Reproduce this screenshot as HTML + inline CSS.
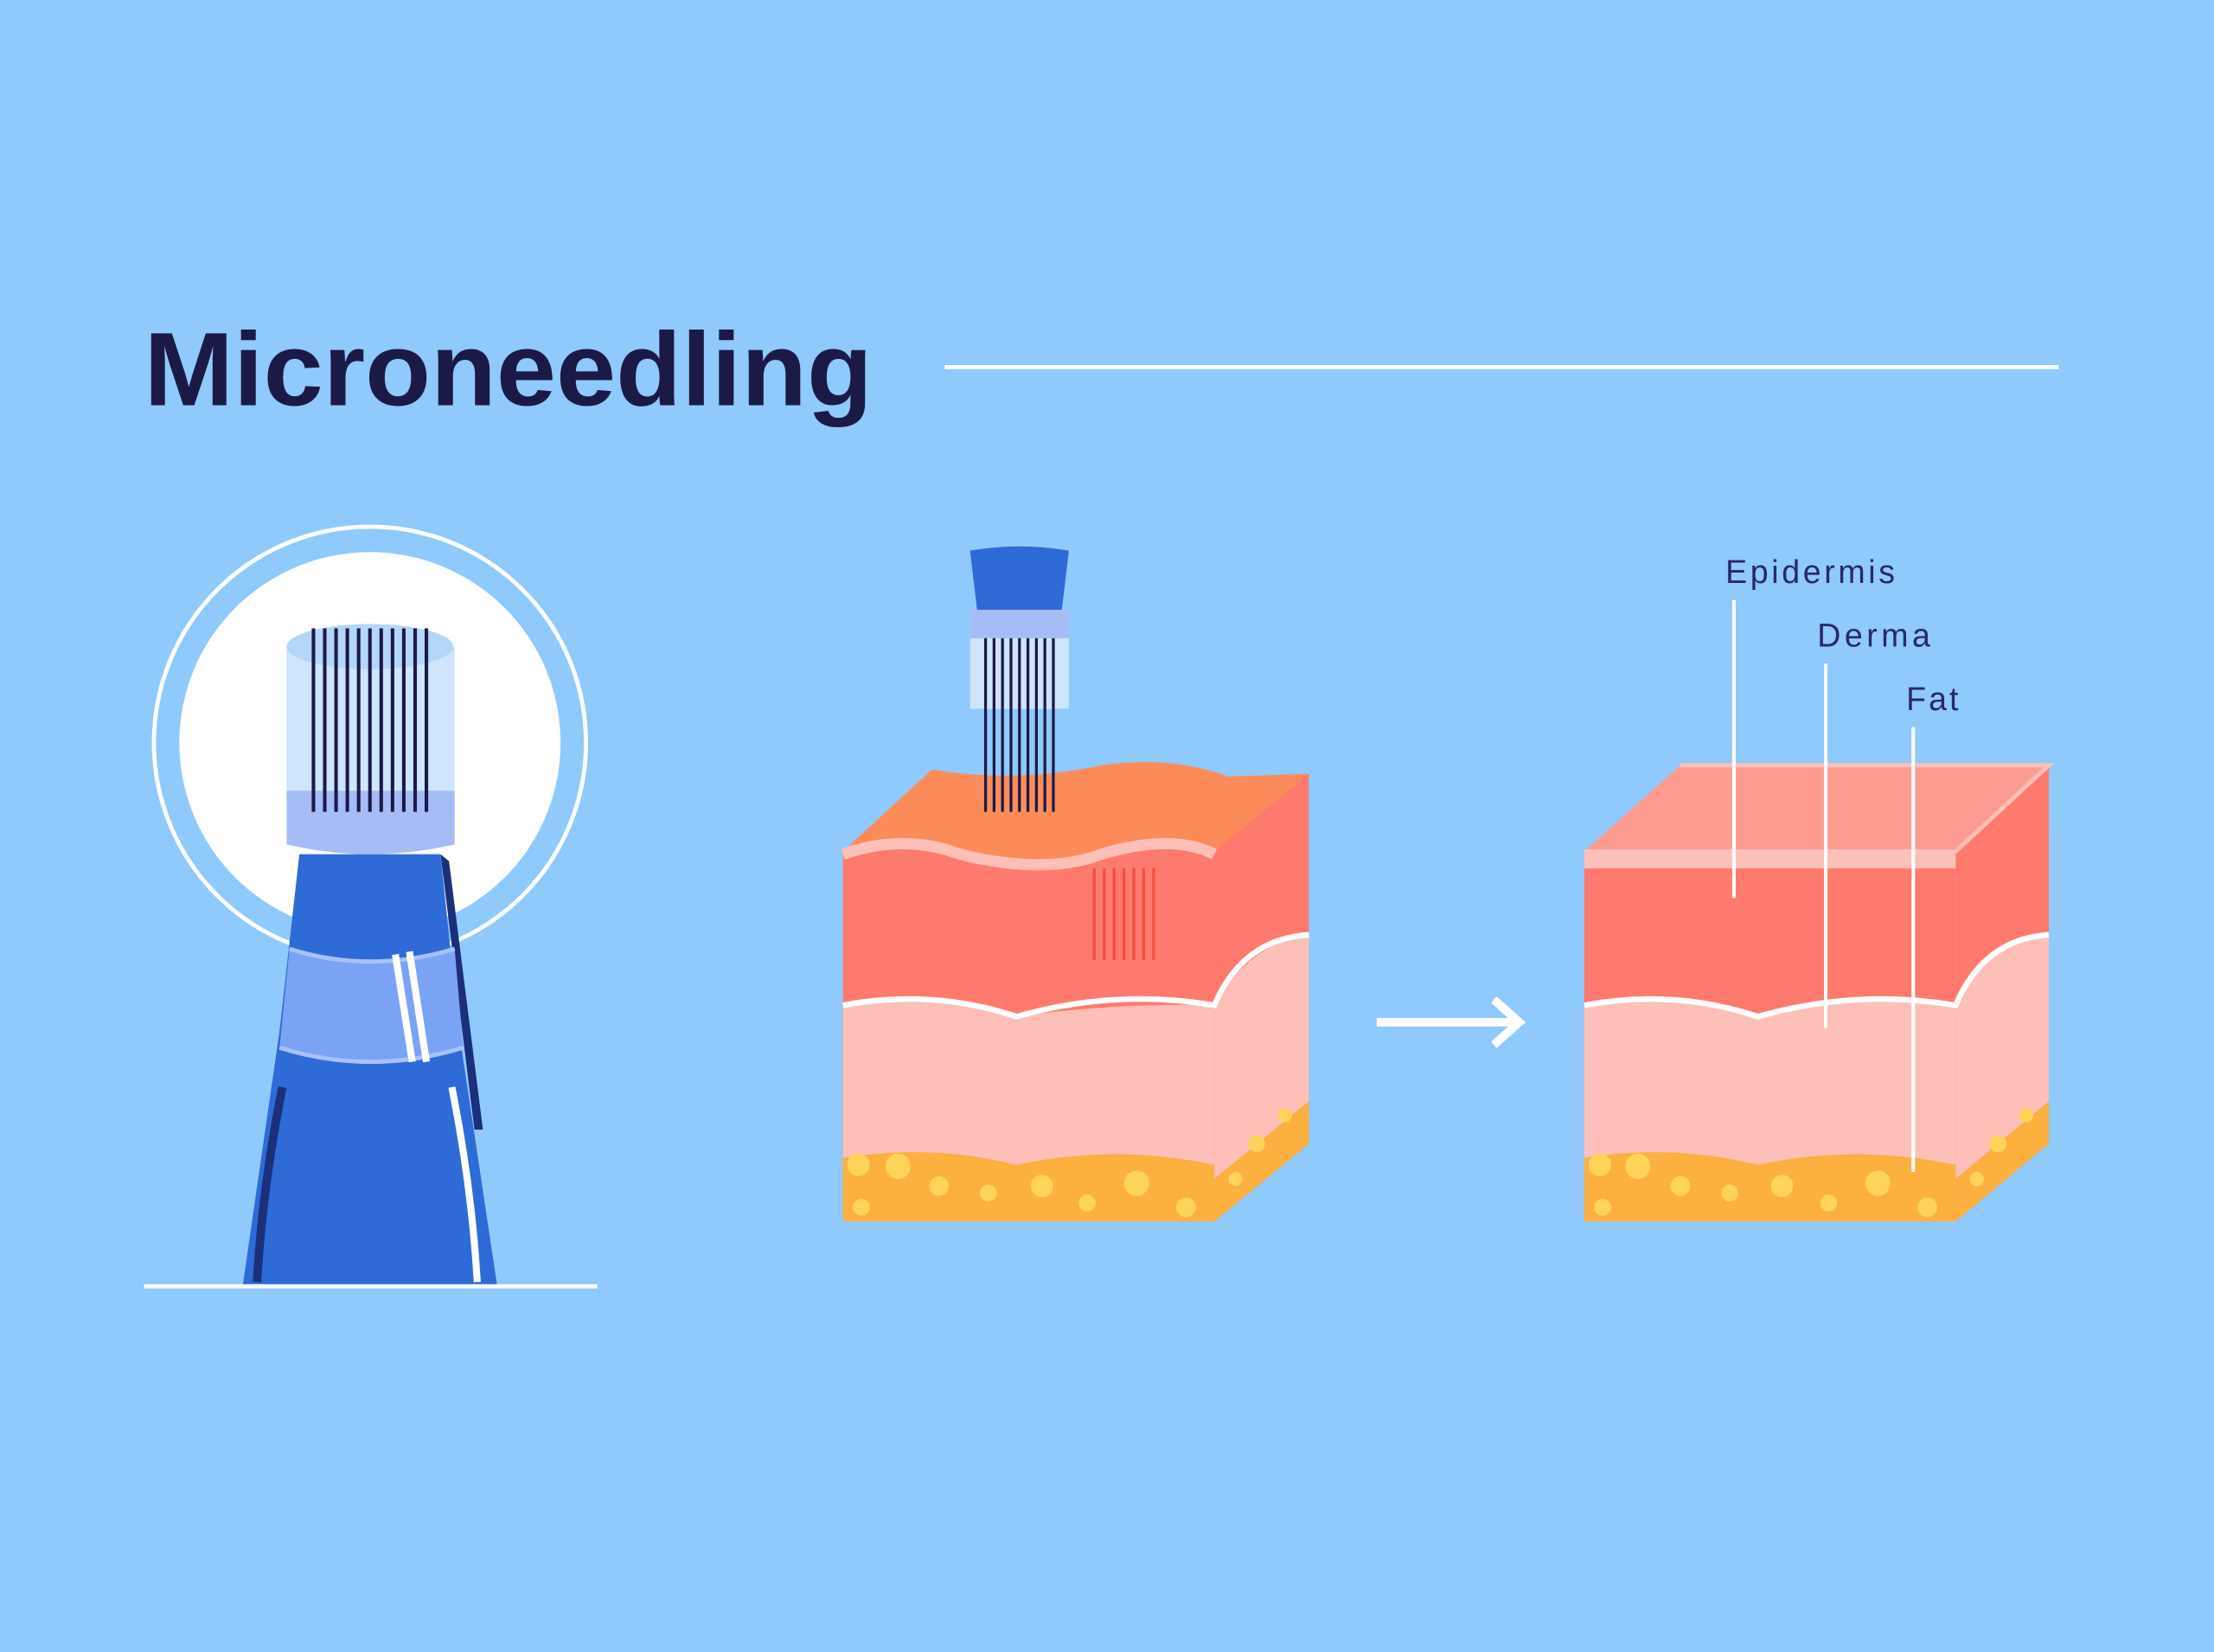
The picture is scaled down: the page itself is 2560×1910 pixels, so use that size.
<!DOCTYPE html>
<html><head><meta charset="utf-8"><style>
html,body{margin:0;padding:0;background:#90c9fb;}
svg{display:block;}
</style></head><body>
<svg width="2560" height="1910" viewBox="0 0 1568 1170" preserveAspectRatio="none" xmlns="http://www.w3.org/2000/svg">
<rect width="1568" height="1170" fill="#90c9fb"/>
<text x="102" y="287" font-family="Liberation Sans, sans-serif" font-weight="bold" font-size="74" fill="#1b1a47" textLength="516" lengthAdjust="spacingAndGlyphs">Microneedling</text>
<line x1="669" y1="260" x2="1458" y2="260" stroke="#fff" stroke-width="3"/>

<!-- pen -->
<circle cx="262" cy="526" r="153" fill="none" stroke="#fff" stroke-width="3"/>
<circle cx="262" cy="526" r="135" fill="#fff"/>
<path d="M212,605 L312,605 L325,730 L352,910 L172,910 L198,730 Z" fill="#2f6bd6"/>
<path d="M312,605 L318,610 L342,800 L336,800 Z" fill="#1b2f7a"/>
<path d="M205,672 Q262,690 322,672 L328,742 Q262,762 198,742 Z" fill="#7ba3f5"/>
<path d="M205,672 Q262,690 322,672" fill="none" stroke="#a9c1fb" stroke-width="3"/>
<path d="M198,742 Q262,762 328,742" fill="none" stroke="#a9c1fb" stroke-width="3"/>
<path d="M280,676 L292,752 M290,674 L302,752" stroke="#fff" stroke-width="5"/>
<path d="M200,770 Q186,840 182,908" stroke="#1b2f7a" stroke-width="6" fill="none"/>
<path d="M320,770 Q334,840 338,908" stroke="#fff" stroke-width="5" fill="none"/>
<rect x="203" y="458" width="119" height="112" fill="#cfe5fb"/>
<path d="M203,560 L322,560 L322,598 Q262,612 203,598 Z" fill="#a6bcf7"/>
<ellipse cx="262" cy="458" rx="59" ry="16" fill="#b4d6f9"/>
<g stroke="#1b1a47" stroke-width="2.5">
<line x1="222" y1="445" x2="222" y2="575"/><line x1="230" y1="445" x2="230" y2="575"/><line x1="238" y1="445" x2="238" y2="575"/><line x1="246" y1="445" x2="246" y2="575"/><line x1="254" y1="445" x2="254" y2="575"/><line x1="262" y1="445" x2="262" y2="575"/><line x1="270" y1="445" x2="270" y2="575"/><line x1="278" y1="445" x2="278" y2="575"/><line x1="286" y1="445" x2="286" y2="575"/><line x1="294" y1="445" x2="294" y2="575"/><line x1="302" y1="445" x2="302" y2="575"/>
</g>
<line x1="102" y1="911" x2="423" y2="911" stroke="#fff" stroke-width="3"/>

<!-- block 1 -->
<g>
<path d="M597,603 L660,545 Q720,555 780,542 Q830,535 870,550 L927,548 L860,610 L597,615 Z" fill="#fb8c5a"/>
<path d="M860,603 L927,548 L927,810 L860,865 Z" fill="#ff7a6e"/>
<path d="M860,715 Q880,670 927,662 L927,780 L860,835 Z" fill="#fcc0b8"/>
<path d="M860,835 L927,780 L927,810 L860,865 Z" fill="#fbb040"/>
<path d="M597,605 Q640,590 680,605 Q740,620 780,605 Q830,590 860,605 L860,865 L597,865 Z" fill="#ff7a6e"/>
<path d="M597,605 Q640,590 680,605 Q740,620 780,605 Q830,590 860,605" fill="none" stroke="#fcc0b8" stroke-width="8"/>
<path d="M597,712 Q660,700 720,720 Q790,710 860,712 L860,865 L597,865 Z" fill="#fcc0b8"/>
<path d="M597,712 Q660,700 720,720 Q790,700 860,712 Q880,665 927,662" fill="none" stroke="#fff" stroke-width="4"/>
<path d="M597,820 Q660,810 720,825 Q790,810 860,825 L860,865 L597,865 Z" fill="#fbb040"/>
<g fill="#fdd35a"><circle cx="608" cy="825" r="8"/><circle cx="636" cy="826" r="9"/><circle cx="665" cy="840" r="7"/><circle cx="700" cy="845" r="6"/><circle cx="738" cy="840" r="8"/><circle cx="770" cy="852" r="6"/><circle cx="805" cy="838" r="9"/><circle cx="840" cy="855" r="7"/><circle cx="610" cy="855" r="6"/><circle cx="890" cy="810" r="6"/><circle cx="910" cy="790" r="5"/><circle cx="875" cy="835" r="5"/></g>
<g stroke="#f0503e" stroke-width="2"><line x1="775" y1="615" x2="775" y2="680"/><line x1="782" y1="615" x2="782" y2="680"/><line x1="789" y1="615" x2="789" y2="680"/><line x1="796" y1="615" x2="796" y2="680"/><line x1="803" y1="615" x2="803" y2="680"/><line x1="810" y1="615" x2="810" y2="680"/><line x1="817" y1="615" x2="817" y2="680"/></g>
<path d="M687,390 Q722,384 757,390 L752,432 L692,432 Z" fill="#2f6bd6"/>
<rect x="687" y="432" width="70" height="70" fill="#cfe5fb"/>
<rect x="687" y="432" width="70" height="20" fill="#a6bcf7"/>
<g stroke="#1b1a47" stroke-width="2"><line x1="698" y1="452" x2="698" y2="575"/><line x1="704" y1="452" x2="704" y2="575"/><line x1="710" y1="452" x2="710" y2="575"/><line x1="716" y1="452" x2="716" y2="575"/><line x1="722" y1="452" x2="722" y2="575"/><line x1="728" y1="452" x2="728" y2="575"/><line x1="734" y1="452" x2="734" y2="575"/><line x1="740" y1="452" x2="740" y2="575"/><line x1="746" y1="452" x2="746" y2="575"/></g>
</g>

<!-- arrow -->
<path d="M975,724 L1075,724 M1058,708 L1076,724 L1058,740" stroke="#fff" stroke-width="6" fill="none"/>

<!-- block 2 -->
<path d="M1122,603 L1190,542 L1451,542 L1385,603 Z" fill="#fc9c90"/>
<path d="M1385,603 L1451,542 L1451,810 L1385,865 Z" fill="#ff7a6e"/>
<path d="M1385,715 Q1405,665 1451,662 L1451,780 L1385,835 Z" fill="#fcc0b8"/>
<path d="M1385,835 L1451,780 L1451,810 L1385,865 Z" fill="#fbb040"/>
<rect x="1122" y="603" width="263" height="262" fill="#ff7a6e"/>
<rect x="1122" y="603" width="263" height="12" fill="#fcc0b8"/>
<path d="M1122,712 Q1185,700 1245,720 Q1315,700 1385,712 L1385,865 L1122,865 Z" fill="#fcc0b8"/>
<path d="M1122,712 Q1185,700 1245,720 Q1315,700 1385,712 Q1405,665 1451,662" fill="none" stroke="#fff" stroke-width="4"/>
<path d="M1122,820 Q1185,810 1245,825 Q1315,810 1385,825 L1385,865 L1122,865 Z" fill="#fbb040"/>
<g fill="#fdd35a"><circle cx="1133" cy="825" r="8"/><circle cx="1160" cy="826" r="9"/><circle cx="1190" cy="840" r="7"/><circle cx="1225" cy="845" r="6"/><circle cx="1262" cy="840" r="8"/><circle cx="1295" cy="852" r="6"/><circle cx="1330" cy="838" r="9"/><circle cx="1365" cy="855" r="7"/><circle cx="1135" cy="855" r="6"/><circle cx="1415" cy="810" r="6"/><circle cx="1435" cy="790" r="5"/><circle cx="1400" cy="835" r="5"/></g>
<path d="M1190,542 L1451,542 L1385,603 L1122,603" fill="none" stroke="#fcc0b8" stroke-width="3"/>
<g stroke="#fff" stroke-width="2.5"><line x1="1228" y1="425" x2="1228" y2="636"/><line x1="1293" y1="470" x2="1293" y2="728"/><line x1="1355" y1="515" x2="1355" y2="830"/></g>
<g font-family="Liberation Sans, sans-serif" font-size="23" fill="#27296b" lengthAdjust="spacingAndGlyphs">
<text x="1222" y="413" textLength="120">Epidermis</text><text x="1287" y="458" textLength="80">Derma</text><text x="1350" y="503" textLength="37">Fat</text></g>
</svg>
</body></html>
